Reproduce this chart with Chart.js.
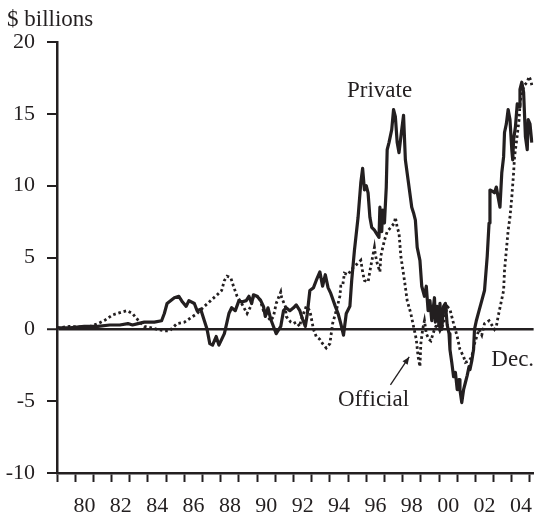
<!DOCTYPE html>
<html lang="en">
<head>
<meta charset="UTF-8">
<title>Private and official flows, $ billions</title>
<script src="https://cdn.jsdelivr.net/npm/chart.js"></script>
<style>
  html, body { margin: 0; padding: 0; background: #fff; }
</style>
</head>
<body>
<canvas id="myChart" width="541" height="516"></canvas>

<script>
// x = fractional year, y = $ billions
const privateYears = [
  1979.0, 1979.7, 1980.5, 1981.25, 1981.9, 1982.45, 1982.9, 1983.15, 1983.45, 1983.8,
  1984.35, 1984.75, 1984.9, 1985.05, 1985.45, 1985.7, 1985.9, 1986.1, 1986.25, 1986.55,
  1986.7, 1986.9, 1987.1, 1987.25, 1987.4, 1987.55, 1987.75, 1987.9, 1988.2, 1988.45,
  1988.6, 1988.8, 1989.0, 1989.15, 1989.4, 1989.55, 1989.7, 1989.8, 1990.0, 1990.2,
  1990.35, 1990.45, 1990.6, 1990.75, 1990.9, 1991.05, 1991.3, 1991.45, 1991.6, 1991.8,
  1992.0, 1992.15, 1992.35, 1992.5, 1992.65, 1992.75, 1992.9, 1993.1, 1993.25, 1993.45,
  1993.6, 1993.75, 1993.9, 1994.05, 1994.3, 1994.45, 1994.6, 1994.75, 1994.9, 1995.1,
  1995.2, 1995.35, 1995.55, 1995.7, 1995.8, 1995.9, 1996.0, 1996.1, 1996.2, 1996.3,
  1996.45, 1996.55, 1996.7, 1996.75, 1996.85, 1996.9, 1997.0, 1997.1, 1997.15, 1997.25,
  1997.4, 1997.5, 1997.6, 1997.7, 1997.8, 1997.95, 1998.05, 1998.15, 1998.3, 1998.5,
  1998.6, 1998.7, 1998.8, 1998.95, 1999.05, 1999.2, 1999.3, 1999.4, 1999.5, 1999.6,
  1999.75, 1999.8, 1999.9, 2000.0, 2000.05, 2000.15, 2000.25, 2000.35, 2000.45, 2000.55,
  2000.6, 2000.7, 2000.8, 2000.9, 2001.0, 2001.1, 2001.15, 2001.25, 2001.35, 2001.45,
  2001.55, 2001.65, 2001.7, 2001.8, 2001.9, 2001.95, 2002.05, 2002.2, 2002.35, 2002.5,
  2002.65, 2002.75, 2002.8, 2002.95, 2003.05, 2003.15, 2003.25, 2003.35, 2003.45, 2003.55,
  2003.6, 2003.7, 2003.8, 2003.9, 2004.0, 2004.05, 2004.1, 2004.2, 2004.3, 2004.4,
  2004.45, 2004.55, 2004.65, 2004.75, 2004.85, 2004.9, 2005.0, 2005.1
];
const privateValues = [
  0.1, 0.1, 0.2, 0.2, 0.3, 0.3, 0.4, 0.3, 0.4, 0.5,
  0.5, 0.6, 1.1, 1.8, 2.2, 2.3, 1.9, 1.6, 2.0, 1.8,
  1.3, 1.4, 0.6, 0.0, -1.0, -1.1, -0.5, -1.1, -0.3, 1.1,
  1.5, 1.3, 2.0, 1.9, 2.0, 2.3, 1.8, 2.4, 2.3, 2.0,
  1.6, 0.9, 1.5, 0.7, 0.2, -0.3, 0.2, 1.3, 1.5, 1.3,
  1.5, 1.7, 1.3, 0.7, 0.2, 1.0, 2.7, 2.9, 3.4, 4.0,
  3.0, 3.8, 2.9, 2.5, 1.6, 1.1, 0.4, -0.4, 1.1, 1.6,
  3.4, 5.5, 7.8, 10.2, 11.2, 9.7, 10.0, 9.5, 7.8, 7.1,
  6.9, 6.7, 6.4, 8.5, 6.8, 8.3, 7.4, 9.9, 12.5, 13.0,
  13.9, 15.3, 14.8, 13.0, 12.3, 13.9, 14.9, 11.8, 10.4, 8.5,
  8.1, 7.6, 5.7, 4.8, 3.0, 2.3, 3.0, 1.3, 2.0, 0.6,
  2.2, 0.5, 1.6, 0.2, 1.8, 0.0, 1.6, 1.8, 0.3, -0.3,
  -1.4, -2.3, -3.3, -3.0, -4.2, -3.5, -4.2, -5.1, -4.2, -3.7,
  -3.2, -2.6, -2.8, -2.2, -1.4, 0.0, 0.6, 1.3, 2.0, 2.7,
  5.1, 7.4, 9.7, 9.6, 9.5, 9.9, 9.2, 8.5, 10.9, 12.0,
  13.7, 14.3, 15.3, 14.6, 12.5, 11.8, 13.2, 14.1, 15.7, 15.5,
  16.7, 17.2, 16.5, 13.4, 12.5, 14.6, 14.3, 13.0
];

const officialYears = [
  1979.0, 1979.7, 1980.7, 1981.25, 1981.65, 1982.05, 1982.55, 1982.85, 1983.15, 1983.45,
  1983.8, 1984.2, 1984.5, 1984.9, 1985.2, 1985.35, 1985.6, 1986.0, 1986.35, 1986.7,
  1987.1, 1987.45, 1987.8, 1988.05, 1988.2, 1988.35, 1988.55, 1988.7, 1988.9, 1989.15,
  1989.45, 1989.65, 1989.8, 1990.1, 1990.35, 1990.5, 1990.75, 1990.9, 1991.05, 1991.3,
  1991.35, 1991.55, 1991.6, 1991.85, 1992.0, 1992.15, 1992.35, 1992.4, 1992.55, 1992.7,
  1992.9, 1993.1, 1993.25, 1993.45, 1993.6, 1993.8, 1994.0, 1994.15, 1994.35, 1994.45,
  1994.55, 1994.6, 1994.7, 1994.8, 1995.0, 1995.15, 1995.35, 1995.55, 1995.7, 1995.8,
  1995.9, 1996.1, 1996.25, 1996.45, 1996.5, 1996.6, 1996.75, 1996.8, 1997.0, 1997.15,
  1997.35, 1997.55, 1997.6, 1997.7, 1997.8, 1997.9, 1998.1, 1998.25, 1998.45, 1998.6,
  1998.75, 1998.85, 1998.95, 1999.0, 1999.1, 1999.2, 1999.3, 1999.45, 1999.55, 1999.65,
  1999.75, 1999.9, 2000.05, 2000.25, 2000.45, 2000.6, 2000.8, 2001.0, 2001.15, 2001.35,
  2001.45, 2001.65, 2001.8, 2001.95, 2002.2, 2002.35, 2002.5, 2002.75, 2002.9, 2003.05,
  2003.15, 2003.25, 2003.4, 2003.55, 2003.6, 2003.7, 2003.8, 2003.9, 2004.0, 2004.1,
  2004.15, 2004.25, 2004.4, 2004.45, 2004.55, 2004.7, 2004.85, 2004.95, 2005.05, 2005.1
];
const officialValues = [
  0.1, 0.2, 0.15, 0.4, 0.65, 1.0, 1.2, 1.3, 1.1, 0.65,
  0.2, 0.1, 0.0, -0.1, -0.1, 0.1, 0.4, 0.5, 0.8, 1.1,
  1.6, 2.0, 2.4, 2.7, 3.4, 3.7, 3.6, 3.0, 2.3, 1.8,
  1.1, 1.6, 2.3, 2.3, 1.3, 1.0, 0.6, 0.9, 1.8, 2.6,
  2.2, 1.6, 0.9, 0.5, 0.4, 0.5, 0.2, 0.6, 1.1, 1.6,
  1.3, 0.0, -0.5, -0.7, -1.0, -1.3, -1.0, 0.4, 1.3, 1.8,
  2.3, 3.0, 3.0, 3.9, 3.8, 4.1, 4.4, 4.6, 4.8, 4.0,
  3.4, 3.3, 4.4, 5.7, 5.2, 4.6, 4.0, 5.1, 6.2, 6.8,
  7.1, 7.4, 7.8, 7.1, 6.7, 5.1, 3.4, 2.0, 1.1, 0.2,
  -0.7, -1.9, -2.6, -1.0, 0.0, 0.6, -0.3, -0.7, -0.8, -0.4,
  0.0, 0.4, -0.1, 0.4, 1.6, 1.4, 0.4, -0.5, -1.4, -1.9,
  -2.3, -2.2, -1.9, -1.0, 0.0, -0.4, 0.4, 0.6, 0.3, 0.0,
  0.2, 0.9, 1.8, 2.7, 4.1, 5.5, 6.9, 7.8, 9.2, 10.9,
  12.0, 13.0, 14.6, 15.7, 16.5, 17.0, 17.2, 17.6, 17.3, 17.0
];

// axis ticks: a mark at the start of every year, a label under every other year
const yearTicks = [
  1979, 1980, 1981, 1982, 1983, 1984, 1985, 1986, 1987, 1988, 1989, 1990, 1991,
  1992, 1993, 1994, 1995, 1996, 1997, 1998, 1999, 2000, 2001, 2002, 2003, 2004, 2005
];
const labelYears = [1980, 1982, 1984, 1986, 1988, 1990, 1992, 1994, 1996, 1998, 2000, 2002, 2004];
const valueTicks = [-10, -5, 0, 5, 10, 15, 20];

const ink = '#231f20';
const serif = '"Liberation Serif", "Times New Roman", serif';

const toPoints = (xs, ys) => xs.map((x, i) => ({ x: x, y: ys[i] }));

// text notes, placed in data units
const notes = {
  id: 'notes',
  afterDraw(chart) {
    const { ctx, scales: { x, y }, chartArea } = chart;
    ctx.save();
    ctx.fillStyle = ink;
    ctx.strokeStyle = ink;
    ctx.font = '23px ' + serif;
    ctx.textBaseline = 'middle';

    ctx.textAlign = 'left';
    ctx.fillText('$ billions', chartArea.left - 50, 20);

    ctx.textAlign = 'center';
    ctx.fillText('Private', x.getPixelForValue(1996.73), y.getPixelForValue(16.6));
    ctx.fillText('Official', x.getPixelForValue(1996.4), y.getPixelForValue(-4.9));
    ctx.fillText('Dec.', x.getPixelForValue(2004.05), y.getPixelForValue(-2.1));

    // arrow pointing at the official dip
    const x0 = x.getPixelForValue(1997.33), y0 = y.getPixelForValue(-3.87);
    const x1 = x.getPixelForValue(1998.36), y1 = y.getPixelForValue(-1.92);
    const a = Math.atan2(y1 - y0, x1 - x0);
    ctx.lineWidth = 1.3;
    ctx.beginPath();
    ctx.moveTo(x0, y0);
    ctx.lineTo(x1, y1);
    ctx.stroke();
    ctx.beginPath();
    ctx.moveTo(x1, y1);
    ctx.lineTo(x1 - 8 * Math.cos(a - 0.4), y1 - 8 * Math.sin(a - 0.4));
    ctx.lineTo(x1 - 8 * Math.cos(a + 0.4), y1 - 8 * Math.sin(a + 0.4));
    ctx.closePath();
    ctx.fill();
    ctx.restore();
  }
};

const ctx = document.getElementById('myChart').getContext('2d');

new Chart(ctx, {
  type: 'line',
  data: {
    datasets: [
      {
        label: 'Private',
        data: toPoints(privateYears, privateValues),
        borderColor: ink,
        borderWidth: 3.2,
        borderJoinStyle: 'round',
        pointRadius: 0,
        tension: 0
      },
      {
        label: 'Official',
        data: toPoints(officialYears, officialValues),
        borderColor: ink,
        borderWidth: 2.8,
        borderDash: [2.6, 2.8],
        pointRadius: 0,
        tension: 0
      }
    ]
  },
  options: {
    responsive: false,
    animation: false,
    devicePixelRatio: 1,
    layout: { padding: { top: 42, right: 2, bottom: 0, left: 0 } },
    plugins: {
      legend: { display: false },
      tooltip: { enabled: false }
    },
    scales: {
      x: {
        type: 'linear',
        min: 1979,
        max: 2005.2,
        afterBuildTicks: s => { s.ticks = yearTicks.map(v => ({ value: v })); },
        afterFit: s => { s.height = 43; },
        border: { display: true, color: ink, width: 2.5 },
        grid: {
          drawOnChartArea: false,
          drawTicks: true,
          tickLength: 9,
          tickColor: ink,
          tickWidth: 2
        },
        ticks: {
          autoSkip: false,
          maxRotation: 0,
          labelOffset: 9.2,
          padding: 11,
          color: ink,
          font: { family: serif, size: 22 },
          callback: v => labelYears.includes(v) ? String(v % 100).padStart(2, '0') : ''
        }
      },
      y: {
        min: -10,
        max: 20,
        afterBuildTicks: s => { s.ticks = valueTicks.map(v => ({ value: v })); },
        afterFit: s => { s.width = 57; },
        border: { display: true, color: ink, width: 2.5 },
        grid: {
          drawTicks: true,
          tickLength: 10,
          tickColor: ink,
          tickWidth: 2,
          color: c => (c.tick && c.tick.value === 0) ? ink : 'rgba(0,0,0,0)',
          lineWidth: c => (c.tick && c.tick.value === 0) ? 2.5 : 0
        },
        ticks: {
          padding: 12,
          color: ink,
          font: { family: serif, size: 22 },
          callback: v => String(v)
        }
      }
    }
  },
  plugins: [notes]
});
</script>
</body>
</html>
